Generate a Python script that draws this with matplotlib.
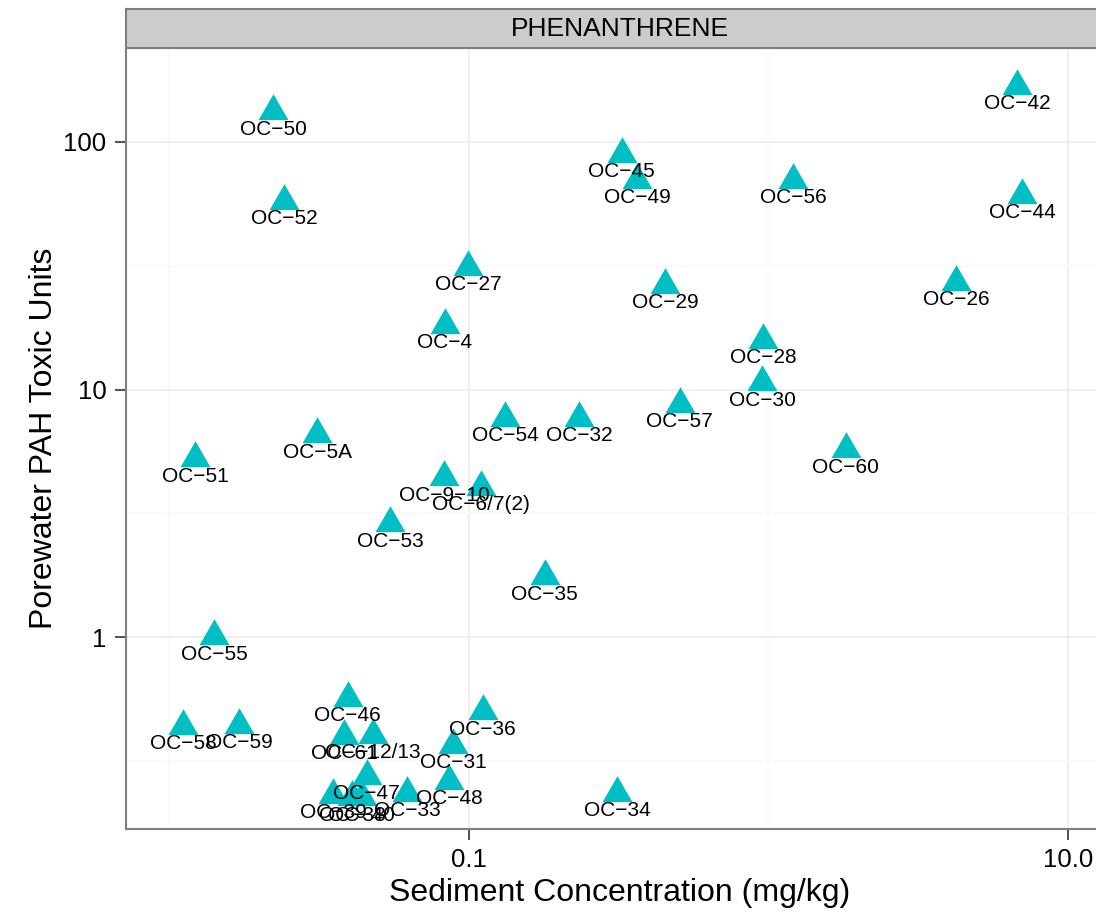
import matplotlib
matplotlib.use('Agg')
import matplotlib.pyplot as plt

plt.rcParams['font.family'] = ['Liberation Sans', 'DejaVu Sans']

# Station labels and values
stations = ['OC-42', 'OC-50', 'OC-52', 'OC-45', 'OC-49', 'OC-56', 'OC-44',
            'OC-27', 'OC-29', 'OC-26', 'OC-4', 'OC-28', 'OC-30', 'OC-57',
            'OC-54', 'OC-32', 'OC-60', 'OC-51', 'OC-5A', 'OC-9-10',
            'OC-6/7(2)', 'OC-53', 'OC-35', 'OC-55', 'OC-46', 'OC-36',
            'OC-61', 'OC-12/13', 'OC-31', 'OC-47', 'OC-48', 'OC-33',
            'OC-34', 'OC-58', 'OC-59', 'OC-39', 'OC-38', 'OC-40']
sediment = [6.76, 0.0222, 0.0241, 0.324, 0.364, 1.21, 7.02,
            0.0992, 0.451, 4.23, 0.0832, 0.959, 0.952, 0.506,
            0.132, 0.233, 1.81, 0.0122, 0.0311, 0.0825,
            0.110, 0.0545, 0.179, 0.0141, 0.0394, 0.111,
            0.0383, 0.0478, 0.0885, 0.0456, 0.0858, 0.0621,
            0.312, 0.0111, 0.0171, 0.0352, 0.0407, 0.0439]
toxic_units = [168, 133, 57.8, 89.5, 70.3, 70.3, 61.1,
               31.3, 26.5, 27.3, 18.3, 15.9, 10.7, 8.78,
               7.71, 7.71, 5.73, 5.27, 6.59, 4.42,
               4.06, 2.88, 1.76, 1.01, 0.568, 0.503,
               0.399, 0.403, 0.367, 0.275, 0.263, 0.235,
               0.235, 0.438, 0.442, 0.231, 0.226, 0.226]

x_ticks = [0.1, 10]
x_tick_labels = ['0.1', '10.0']
y_ticks = [1, 10, 100]
y_tick_labels = ['1', '10', '100']

border = '#7F7F7F'

fig = plt.figure(figsize=(10.96, 9.14), dpi=100)
ax = fig.add_axes([0.115, 0.0930, 0.9015, 0.8545])

# equilateral triangle centred on its centroid
tri = [(0, 1.1547), (-1, -0.5774), (1, -0.5774)]
ax.plot(sediment, toxic_units, linestyle='none', marker=tri,
        markersize=24.9, color='#00BFC4', markeredgewidth=0)

for name, x, y in zip(stations, sediment, toxic_units):
    ax.annotate(name.replace('-', '\u2212'), (x, y), xytext=(0, -16.8),
                textcoords='offset points', ha='center', va='baseline',
                fontsize=15, color='black')

ax.set_xscale('log')
ax.set_yscale('log')
ax.set_xlim(10 ** -2.145, 10 ** 1.154)
ax.set_ylim(10 ** -0.774, 10 ** 2.379)

ax.set_xticks(x_ticks)
ax.set_xticklabels(x_tick_labels)
ax.set_yticks(y_ticks)
ax.set_yticklabels(y_tick_labels)
ax.set_xticks([0.01, 1], minor=True)
ax.set_yticks([10 ** -0.5, 10 ** 0.5, 10 ** 1.5], minor=True)
ax.tick_params(which='minor', length=0, labelbottom=False, labelleft=False)
ax.tick_params(which='major', length=8, width=1.2, color='#333333',
               labelsize=18.5, pad=6)

ax.grid(which='major', color='#EBEBEB', linewidth=1.1)
ax.grid(which='minor', color='#FAFAFA', linewidth=1.6)
ax.set_axisbelow(True)
for s in ax.spines.values():
    s.set_color(border)
    s.set_linewidth(1.5)

ax.set_xlabel('Sediment Concentration (mg/kg)', fontsize=23, labelpad=4)
ax.set_ylabel('Porewater PAH Toxic Units', fontsize=23, labelpad=3)

# facet strip
strip = fig.add_axes([0.115, 0.9475, 0.9015, 0.0425])
strip.set_facecolor('#CCCCCC')
strip.set_xticks([])
strip.set_yticks([])
for s in strip.spines.values():
    s.set_color(border)
    s.set_linewidth(1.5)
strip.text(0.5, 0.5, 'PHENANTHRENE', ha='center', va='center',
           fontsize=19, transform=strip.transAxes)

fig.savefig('out.png', dpi=100)
